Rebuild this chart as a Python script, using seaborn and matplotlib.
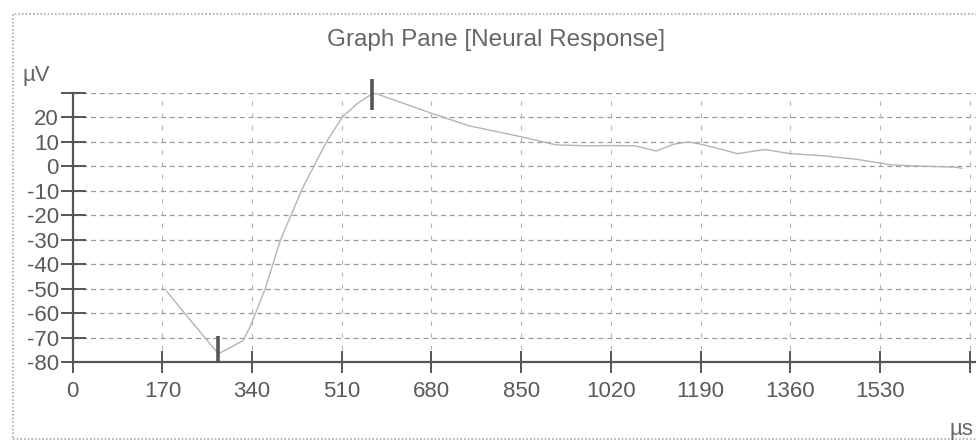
import matplotlib
matplotlib.use("Agg")
import matplotlib.pyplot as plt
import seaborn as sns
import pandas as pd
from matplotlib.patches import Rectangle

# ---- data ----
time_us = [178, 222, 276, 298, 323, 336, 365, 394, 435, 457, 482, 511, 539, 568,
           575, 680, 751, 850, 916, 976, 1020, 1065, 1106, 1140, 1166, 1190, 1222,
           1260, 1312, 1360, 1425, 1485, 1552, 1612, 1671, 1686]
response_uv = [-51.1, -62.7, -76.6, -74.2, -71.2, -65.7, -50.0, -30.0, -9.3, 0.0, 10.3,
               20.0, 25.5, 29.6, 29.6, 21.6, 16.5, 12.0, 8.7, 8.3, 8.4, 8.3, 6.2, 9.0,
               9.9, 9.0, 7.3, 5.1, 6.8, 5.1, 4.2, 2.8, 0.5, 0.0, -0.4, -0.9]
marker_x = [276, 567]
marker_lo = [-80, 22.8]
marker_hi = [-69.5, 35.7]
x_ticks = [0, 170, 340, 510, 680, 850, 1020, 1190, 1360, 1530, 1700]
x_labels = ["0", "170", "340", "510", "680", "850", "1020", "1190", "1360", "1530", ""]
y_ticks = [-80, -70, -60, -50, -40, -30, -20, -10, 0, 10, 20, 30]
y_labels = ["-80", "-70", "-60", "-50", "-40", "-30", "-20", "-10", "0", "10", "20", ""]
title = "Graph Pane [Neural Response]"

df = pd.DataFrame({"t": time_us, "v": response_uv})

sns.set_theme(style="white")
plt.rcParams["font.family"] = ["Liberation Sans", "DejaVu Sans"]

fig = plt.figure(figsize=(9.76, 4.41), dpi=100)
ax = fig.add_axes([72.7 / 976, (441 - 362) / 441, (976 - 72.7) / 976, (362 - 92.7) / 441])

sns.lineplot(data=df, x="t", y="v", ax=ax, color="#b4b4b4", linewidth=1.0)

ax.set_xlim(0, 1712)
ax.set_ylim(-80, 30)

# grid
for y in y_ticks[1:]:
    ax.axhline(y, color="#9a9a9a", lw=0.9, ls=(0, (4, 3)), zorder=0)
for x in x_ticks[1:]:
    ax.axvline(x, color="#b4b4b4", lw=0.8, ls=(0, (4, 7)), zorder=0)

# markers
for mx, lo, hi in zip(marker_x, marker_lo, marker_hi):
    ax.plot([mx, mx], [lo, hi], color="#555555", lw=2.6, solid_capstyle="butt",
            zorder=5, clip_on=False)

ax.set_xticks(x_ticks)
ax.set_xticklabels(x_labels)
ax.set_yticks(y_ticks)
ax.set_yticklabels(y_labels)
ax.tick_params(axis="both", direction="inout", colors="#555555", labelcolor="#5a5a5a",
               labelsize=16, width=1.4, bottom=True, left=True)
ax.tick_params(axis="x", length=16, pad=6)
ax.tick_params(axis="y", length=18, pad=1)
ax.set_xlabel("")
ax.set_ylabel("")

for s in ["top", "right"]:
    ax.spines[s].set_visible(False)
for s in ["left", "bottom"]:
    ax.spines[s].set_color("#555555")
    ax.spines[s].set_linewidth(1.6)

fig.text(496 / 976, 1 - 40 / 441, title, ha="center", va="center", fontsize=17.5, color="#666666")
fig.text(36 / 976, 1 - 76 / 441, "µV", ha="center", va="center", fontsize=16, color="#666666")
fig.text(961 / 976, 1 - 430 / 441, "µs", ha="center", va="center", fontsize=16, color="#666666")

# dotted frame
fig.patches.append(Rectangle((12.7 / 976, 2 / 441), 1.0, 1 - 16 / 441, transform=fig.transFigure,
                             fill=False, edgecolor="#aaaaaa", lw=1.2, ls=(0, (1, 1.2))))

fig.savefig("out.png", dpi=100)
